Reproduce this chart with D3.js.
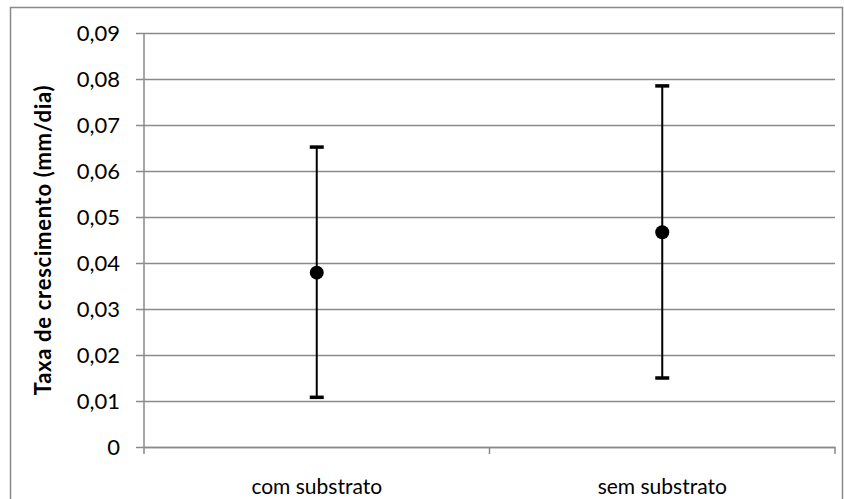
<!DOCTYPE html>
<html>
<head>
<meta charset="utf-8">
<script src="https://cdn.jsdelivr.net/npm/d3@7"></script>
<style>
  body { margin: 0; background: #fff; }
  svg { display: block; font-family: Lato, "Open Sans", sans-serif; }
</style>
</head>
<body>
<svg id="chart" width="844" height="499"></svg>
<script>
const categories = ["com substrato", "sem substrato"];
const means = [0.0379, 0.0467];
const upper = [0.0652, 0.0785];
const lower = [0.0108, 0.0150];
const yTicks = [0, 0.01, 0.02, 0.03, 0.04, 0.05, 0.06, 0.07, 0.08, 0.09];

const width = 844, height = 499;
const margin = { top: 33, right: 9, bottom: 52, left: 144 };
const innerWidth = width - margin.left - margin.right;
const innerHeight = height - margin.top - margin.bottom;
const font = "Lato, 'Open Sans', sans-serif";

const svg = d3.select("#chart");

// outer frame
svg.append("rect")
  .attr("x", 10.5).attr("y", 7.5)
  .attr("width", 832).attr("height", 500)
  .attr("fill", "none")
  .attr("stroke", "#898989")
  .attr("stroke-width", 1.5);

const g = svg.append("g")
  .attr("transform", `translate(${margin.left},${margin.top})`);

const x = d3.scaleBand().domain(categories).range([0, innerWidth]);
const y = d3.scaleLinear().domain([0, 0.09]).range([innerHeight, 0]);

const fmt = d => d === 0 ? "0" : d3.format(".2f")(d).replace(".", ",");

// gridlines + y axis
const yAxis = g.append("g")
  .call(d3.axisLeft(y).tickValues(yTicks).tickFormat(fmt).tickSize(-innerWidth).tickSizeOuter(0))
  .attr("font-family", font);
yAxis.select(".domain").remove();
yAxis.selectAll(".tick line")
  .attr("x1", -8)
  .attr("stroke", "#8a8a8a")
  .attr("stroke-width", 1.3);
yAxis.selectAll(".tick text")
  .attr("x", -24)
  .attr("font-size", 22)
  .attr("fill", "#000");

g.append("line")
  .attr("x1", 0).attr("x2", 0)
  .attr("y1", 0).attr("y2", innerHeight)
  .attr("stroke", "#8a8a8a").attr("stroke-width", 1.5);

// x axis
const xAxis = g.append("g")
  .attr("transform", `translate(0,${innerHeight})`)
  .call(d3.axisBottom(x).tickSize(0))
  .attr("font-family", font);
xAxis.select(".domain")
  .attr("stroke", "#8a8a8a").attr("stroke-width", 1.5);
xAxis.selectAll(".tick text")
  .attr("dy", 0)
  .attr("y", 47)
  .attr("font-size", 21)
  .attr("fill", "#000");
// category separators
g.selectAll(".sep")
  .data([0, innerWidth / 2, innerWidth])
  .join("line")
  .attr("x1", d => d).attr("x2", d => d)
  .attr("y1", innerHeight).attr("y2", innerHeight + 7)
  .attr("stroke", "#8a8a8a").attr("stroke-width", 1.5);

// y axis title
svg.append("text")
  .attr("transform", `translate(51,${margin.top + innerHeight / 2}) rotate(-90)`)
  .attr("text-anchor", "middle")
  .attr("font-size", 22)
  .attr("letter-spacing", 0.7)
  .attr("font-weight", "bold")
  .text("Taxa de crescimento (mm/dia)");

// error bars
const cx = d => x(d) + x.bandwidth() / 2;
const bars = g.selectAll(".err")
  .data(categories)
  .join("g");
bars.append("line")
  .attr("x1", cx).attr("x2", cx)
  .attr("y1", (d, i) => y(upper[i]))
  .attr("y2", (d, i) => y(lower[i]))
  .attr("stroke", "#000").attr("stroke-width", 2);
bars.append("line")
  .attr("x1", d => cx(d) - 7).attr("x2", d => cx(d) + 7)
  .attr("y1", (d, i) => y(upper[i])).attr("y2", (d, i) => y(upper[i]))
  .attr("stroke", "#000").attr("stroke-width", 3.5);
bars.append("line")
  .attr("x1", d => cx(d) - 7).attr("x2", d => cx(d) + 7)
  .attr("y1", (d, i) => y(lower[i])).attr("y2", (d, i) => y(lower[i]))
  .attr("stroke", "#000").attr("stroke-width", 3.5);
bars.append("circle")
  .attr("cx", cx)
  .attr("cy", (d, i) => y(means[i]))
  .attr("r", 7)
  .attr("fill", "#000");
</script>
</body>
</html>
